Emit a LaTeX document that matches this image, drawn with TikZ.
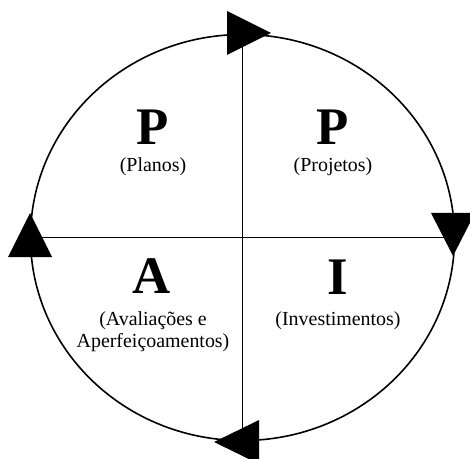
\documentclass[tikz,border=0pt]{standalone}
\usepackage{fontspec}
\setmainfont{Liberation Serif}
\usetikzlibrary{calc}

\tikzset{
  cycleline/.style={line width=1.6bp},
  bigletter/.style={anchor=base,inner sep=0pt,font=\fontsize{53}{60}\selectfont\bfseries},
  smalltext/.style={anchor=base,inner sep=0pt,font=\fontsize{20}{22}\selectfont},
  arrowhead/.style={fill=black,draw=none}
}

\begin{document}
\begin{tikzpicture}[x=1bp,y=-1bp]

\useasboundingbox (0,0) rectangle (470,459);

% Circle
\coordinate (O) at (242.5,237.5);
\draw[cycleline] (O) ellipse [x radius=212bp, y radius=203bp];

% Cross
\coordinate (top) at (242.5,34.5);
\coordinate (bottom) at (242.5,440.5);
\coordinate (left) at (30.5,237.5);
\coordinate (right) at (454.5,237.5);
\draw[cycleline] (top) -- (bottom);
\draw[cycleline] (left) -- (right);

% Arrowheads
\fill[arrowhead] (227,11) -- (227,55) -- (271,33) -- cycle;
\fill[arrowhead] (431,213) -- (475,213) -- (453,256) -- cycle;
\fill[arrowhead] (259,420) -- (259,464) -- (214,442) -- cycle;
\fill[arrowhead] (8,257) -- (52,257) -- (30,213) -- cycle;

% Quadrants
\node[bigletter] (planosL) at (153,145) {P};
\node[smalltext] (planos) at (153,172) {(Planos)};

\node[bigletter] (projetosL) at (333,145) {P};
\node[smalltext] (projetos) at (333,172) {(Projetos)};

\node[bigletter] (avalL) at (152,293) {A};
\node[smalltext] (aval1) at (153,325) {(Avaliações e};
\node[smalltext] (aval2) at (153,347) {Aperfeiçoamentos)};

\node[bigletter] (investL) at (338,294) {I};
\node[smalltext] (invest) at (338,325) {(Investimentos)};

\end{tikzpicture}
\end{document}
